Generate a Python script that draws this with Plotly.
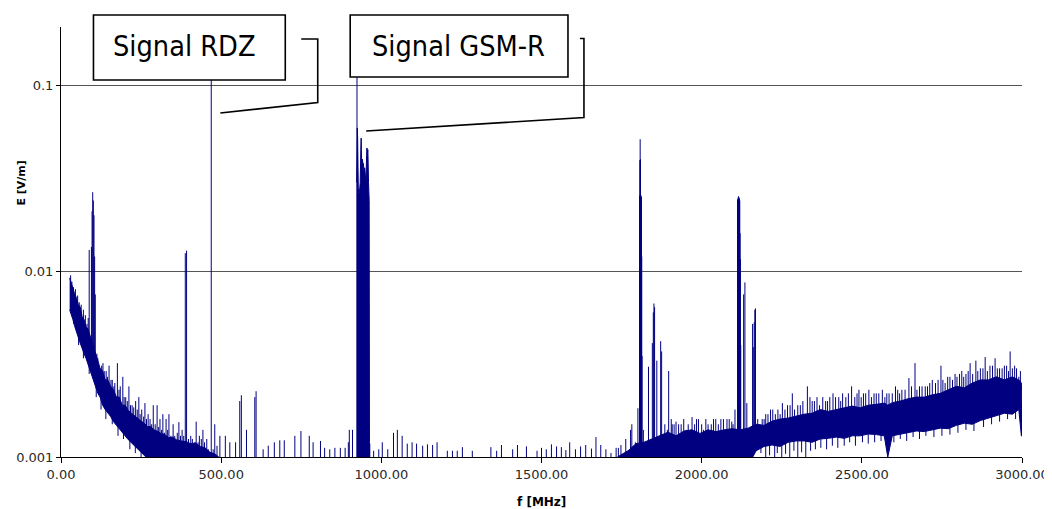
import numpy as np
import plotly.graph_objects as go

# ---------------- data ----------------
x_ticks = [0, 500, 1000, 1500, 2000, 2500, 3000]
x_ticklabels = ["0.00", "500.00", "1000.00", "1500.00", "2000.00", "2500.00", "3000.00"]
y_ticks = [0.001, 0.01, 0.1]
y_ticklabels = ["0.001", "0.01", "0.1"]

# low-frequency noise band (MHz, upper / lower edge in V/m)
band_a_f = [27, 32, 37, 42, 48, 54, 60, 66, 72, 78, 84, 90, 96, 102, 108, 115, 122, 130, 138, 146,
            155, 164, 173, 182, 191, 200, 210, 220, 230, 240, 250, 260, 270, 280, 290, 300, 312,
            324, 336, 348, 360, 375, 390, 405, 420, 435, 450, 465, 480, 495]
band_a_hi = [0.0092, 0.0086, 0.0083, 0.0076, 0.0072, 0.0066, 0.0064, 0.0057, 0.0055, 0.0050, 0.0049,
             0.0045, 0.0042, 0.0039, 0.0036, 0.0033, 0.0030, 0.0029, 0.0026, 0.0026, 0.0024, 0.0023,
             0.0021, 0.0021, 0.0019, 0.0019, 0.00178, 0.00172, 0.00166, 0.00160, 0.00156, 0.00152,
             0.00146, 0.00146, 0.00140, 0.00138, 0.00134, 0.00132, 0.00127, 0.00128, 0.00124,
             0.00122, 0.00121, 0.00118, 0.00119, 0.00114, 0.00112, 0.00106, 0.00104, 0.00099]
band_a_lo = [0.0062, 0.0058, 0.0055, 0.0051, 0.0047, 0.0044, 0.0041, 0.0038, 0.0036, 0.0034, 0.0032,
             0.0030, 0.0028, 0.0026, 0.0024, 0.0022, 0.0021, 0.0019, 0.0018, 0.00172, 0.00165,
             0.00155, 0.00148, 0.00142, 0.00135, 0.0013, 0.00124, 0.00118, 0.00114, 0.0011, 0.00106,
             0.00102, 0.00098, 0.00096, 0.0009, 0.0009, 0.0009, 0.0009, 0.0009, 0.0009, 0.0009,
             0.0009, 0.0009, 0.0009, 0.0009, 0.0009, 0.0009, 0.0009, 0.0009, 0.0009]

# high-frequency noise band
band_b_f = [1720, 1745, 1770, 1795, 1820, 1845, 1870, 1895, 1920, 1945, 1970, 1995, 2020, 2045,
            2070, 2095, 2120, 2145, 2170, 2195, 2220, 2245, 2270, 2295, 2320, 2345, 2370, 2395,
            2420, 2445, 2470, 2495, 2520, 2545, 2570, 2581, 2595, 2620, 2645, 2670, 2695, 2720,
            2745, 2770, 2795, 2820, 2845, 2870, 2895, 2920, 2945, 2970, 2990, 2998, 3000]
band_b_hi = [0.00095, 0.00102, 0.00108, 0.00118, 0.0012, 0.00125, 0.0013, 0.00136, 0.0013, 0.00138,
             0.0014, 0.00134, 0.0014, 0.00137, 0.0014, 0.00142, 0.0014, 0.00143, 0.0015, 0.00148,
             0.00156, 0.0016, 0.00162, 0.00166, 0.0017, 0.00172, 0.0018, 0.00176, 0.0018, 0.00185,
             0.00188, 0.00184, 0.0019, 0.00192, 0.00195, 0.0019, 0.00196, 0.002, 0.00206, 0.0021,
             0.0021, 0.00216, 0.0022, 0.0023, 0.0024, 0.00236, 0.0025, 0.0026, 0.0026, 0.0027,
             0.0026, 0.0027, 0.0026, 0.0025, 0.0019]
band_b_lo = [0.0009, 0.0009, 0.0009, 0.0009, 0.0009, 0.0009, 0.0009, 0.0009, 0.0009, 0.0009,
             0.0009, 0.0009, 0.0009, 0.0009, 0.0009, 0.0009, 0.0009, 0.0009, 0.00108, 0.00114,
             0.00116, 0.00114, 0.0012, 0.00122, 0.00122, 0.0012, 0.00125, 0.00126, 0.00128,
             0.00126, 0.0013, 0.0013, 0.00133, 0.00132, 0.0013, 0.001, 0.0013, 0.00133, 0.00135,
             0.00138, 0.00137, 0.0014, 0.00143, 0.00142, 0.00148, 0.00152, 0.0015, 0.00157,
             0.00162, 0.00167, 0.00172, 0.0017, 0.0018, 0.0013, 0.0013]

# GSM-R block (dense carriers)
gsm_f = [923, 925, 926, 928, 930, 932, 934, 936, 937, 939, 941, 943, 944, 946, 948, 950, 952,
         954, 955, 957, 958, 960, 962, 963]
gsm_hi = [0.030, 0.059, 0.052, 0.028, 0.026, 0.027, 0.030, 0.045, 0.052, 0.035, 0.040, 0.037,
          0.038, 0.034, 0.036, 0.033, 0.030, 0.042, 0.046, 0.044, 0.045, 0.030, 0.024, 0.0012]

# individual spectral lines (MHz, V/m)
spike_f = [85, 88, 95, 97, 99, 101, 103, 105, 107, 115, 122, 131, 141, 150, 160, 168, 176, 185,
           193, 202, 212, 222, 233, 243, 252, 262, 272, 288, 300, 309, 318, 328, 337, 350, 368,
           378, 388, 392, 405, 422, 432, 443, 455, 469, 480, 496, 513, 527, 545, 558, 563, 579,
           605, 609, 631, 647, 666, 683, 697, 730, 749, 775, 787, 810, 823, 839, 855, 872, 887,
           897, 900, 910, 924,
           964, 976, 992, 1003, 1020, 1038, 1050, 1065, 1081, 1096, 1110, 1129, 1144, 1160,
           1174, 1206, 1222, 1237, 1253, 1284, 1342, 1360, 1375, 1410, 1425, 1453, 1486, 1500,
           1515, 1531, 1547, 1562, 1576, 1588, 1606, 1622, 1638, 1656, 1670, 1685, 1701, 1717,
           1733, 1740, 1748, 1763, 1778, 1782, 1793, 1801,
           1806, 1807, 1808, 1809, 1810, 1811, 1812, 1813, 1814, 1818, 1834, 1846, 1849, 1851,
           1853, 1860, 1872, 1875, 1897, 1908, 1920, 1936, 1952, 1970, 1990, 2013, 2030, 2044,
           2060, 2079, 2094, 2104,
           2112, 2113, 2114, 2115, 2116, 2117, 2118, 2119, 2120, 2121, 2122, 2131, 2135, 2141,
           2159, 2161, 2164, 2166, 2168,
           2189, 2200, 2215, 2230, 2252, 2268, 2283, 2300, 2330, 2345, 2360, 2387, 2400, 2418,
           2440, 2468, 2491, 2505, 2522, 2545, 2564, 2585, 2605, 2625, 2647, 2666, 2680, 2698,
           2720, 2747, 2760, 2775, 2791, 2812, 2825, 2838, 2856, 2870, 2885, 2900, 2916, 2930,
           2945, 2963, 2977, 2990]
spike_v = [0.0056, 0.0130, 0.0135, 0.0210, 0.0266, 0.0240, 0.0200, 0.0120, 0.0075, 0.0034, 0.0030,
           0.0032, 0.0029, 0.0031, 0.0026, 0.0025, 0.0032, 0.0024, 0.0027, 0.0021, 0.0024, 0.0019,
           0.0020, 0.0021, 0.0018, 0.00195, 0.0017, 0.0019, 0.0019, 0.0016, 0.0017, 0.0016, 0.0017,
           0.0015, 0.00154, 0.0014, 0.0125, 0.0129, 0.0013, 0.00155, 0.0013, 0.0014, 0.00125, 0.15,
           0.0015, 0.0013, 0.0013, 0.0012, 0.0012, 0.0020, 0.00215, 0.0014, 0.0021, 0.00226,
           0.0011, 0.00115, 0.0012, 0.00123, 0.00123, 0.0013, 0.00138, 0.0013, 0.0012, 0.00122,
           0.00112, 0.0011, 0.00112, 0.00112, 0.00112, 0.0012, 0.0014, 0.0014, 0.15,
           0.00118, 0.00108, 0.0011, 0.0012, 0.0011, 0.00135, 0.0014, 0.0013, 0.00118, 0.0012,
           0.00118, 0.00115, 0.00117, 0.00116, 0.0012, 0.00108, 0.00108, 0.00108, 0.00113,
           0.00108, 0.00113, 0.00108, 0.00116, 0.0011, 0.00116, 0.00114, 0.00108, 0.00112,
           0.0011, 0.00117, 0.00114, 0.00113, 0.00109, 0.0012, 0.0011, 0.00114, 0.00116, 0.00111,
           0.00128, 0.00116, 0.0011, 0.00105, 0.00112, 0.00112, 0.00116, 0.00125, 0.0014,
           0.0015, 0.0012, 0.00183,
           0.0255, 0.0396, 0.0513, 0.0400, 0.0255, 0.0255, 0.0250, 0.0120, 0.0035, 0.0014,
           0.00306, 0.0041, 0.0060, 0.0067, 0.0064, 0.0033, 0.0042, 0.0037, 0.0029, 0.0015,
           0.00155, 0.0015, 0.0014, 0.00164, 0.0016, 0.0016, 0.0015, 0.0016, 0.0016, 0.0016,
           0.00155, 0.0018,
           0.0243, 0.0245, 0.0250, 0.0253, 0.0250, 0.0248, 0.0245, 0.0240, 0.0160, 0.0116,
           0.0040, 0.0075, 0.0087, 0.00195, 0.0052, 0.0039, 0.0053, 0.0062, 0.0063,
           0.0016, 0.0017, 0.0018, 0.0017, 0.00195, 0.0019, 0.0022, 0.0019, 0.0024, 0.0020,
           0.0021, 0.0020, 0.0021, 0.0021, 0.0022, 0.0024, 0.0023, 0.0022, 0.0023, 0.0022,
           0.0023, 0.0022, 0.0024, 0.0023, 0.00266, 0.0032, 0.0024, 0.0024, 0.0026, 0.0031,
           0.0025, 0.0027, 0.0028, 0.0029, 0.0028, 0.0032, 0.0033, 0.0030, 0.00345, 0.0031,
           0.0034, 0.0030, 0.0031, 0.0037, 0.0031, 0.0027]

# smaller lines sticking out of the top of the noise bands
minor_f = [30, 34, 39, 45, 52, 57, 63, 70, 76, 81, 112, 127, 135, 145, 156, 165, 181, 197, 207,
           217, 227, 238, 247, 258, 267, 278, 283, 294, 305, 314, 323, 333, 343, 355, 363, 373,
           383, 398, 410, 418, 428, 438, 448, 460, 475, 487,
           1885, 1893, 1905, 1914, 1928, 1944, 1958, 1965, 1978, 1984, 2000, 2006, 2020, 2037,
           2052, 2068, 2086, 2098,
           2175, 2182, 2195, 2207, 2222, 2238, 2245, 2260, 2276, 2290, 2308, 2316, 2338, 2352,
           2368, 2378, 2393, 2410, 2428, 2434, 2450, 2458, 2478, 2485, 2498, 2512, 2530, 2538,
           2553, 2572, 2578, 2595, 2612, 2618, 2635, 2655, 2672, 2688, 2705, 2712, 2730, 2738,
           2753, 2768, 2783, 2797, 2805, 2818, 2832, 2846, 2862, 2878, 2892, 2908, 2923, 2938,
           2952, 2958, 2970, 2983, 2995]
minor_v = [0.0095, 0.0088, 0.0082, 0.0080, 0.0074, 0.0068, 0.0066, 0.0062, 0.0058, 0.0052, 0.0036,
           0.0031, 0.0029, 0.0027, 0.0026, 0.0024, 0.0023, 0.0021, 0.0020, 0.0019, 0.00185, 0.0018,
           0.0017, 0.00165, 0.0016, 0.0016, 0.0015, 0.0015, 0.00145, 0.0014, 0.00135, 0.0014,
           0.0013, 0.0013, 0.00135, 0.0013, 0.0013, 0.00125, 0.00125, 0.0012, 0.0012, 0.00125,
           0.0012, 0.0011, 0.0011, 0.00115,
           0.0015, 0.0014, 0.0016, 0.0015, 0.0015, 0.0016, 0.0015, 0.0014, 0.0015, 0.0016, 0.0015,
           0.0014, 0.0015, 0.0016, 0.0015, 0.0016, 0.0016, 0.0015,
           0.0016, 0.0015, 0.0016, 0.0017, 0.0018, 0.0018, 0.0017, 0.0018, 0.0019, 0.0018, 0.0019,
           0.0020, 0.0021, 0.0020, 0.0019, 0.0021, 0.0020, 0.0022, 0.0021, 0.0020, 0.0021, 0.0022,
           0.0021, 0.0022, 0.0021, 0.0022, 0.0021, 0.0022, 0.0022, 0.0021, 0.0022, 0.0022, 0.0023,
           0.0022, 0.0023, 0.0024, 0.0023, 0.0024, 0.0024, 0.0025, 0.0025, 0.0026, 0.0026, 0.0027,
           0.0026, 0.0027, 0.0028, 0.0027, 0.0029, 0.0028, 0.0029, 0.0030, 0.0029, 0.0031, 0.0030,
           0.0030, 0.0031, 0.0029, 0.0030, 0.0030, 0.0029]

# lines dropping below the bottom of the noise bands
dip_f = [40, 55, 70, 88, 110, 125, 140, 160, 178, 195, 215, 232, 250,
         2185, 2200, 2212, 2228, 2236, 2250, 2262, 2275, 2288, 2300, 2312, 2325, 2340, 2355,
         2372, 2390, 2408, 2425, 2445, 2462, 2480, 2502, 2520, 2540, 2560, 2600, 2620, 2640,
         2660, 2680, 2700, 2725, 2750, 2775, 2800, 2825, 2850, 2880, 2905, 2930, 2955, 2980]
dip_v = [0.0052, 0.0040, 0.0034, 0.0028, 0.0021, 0.0018, 0.0016, 0.0015, 0.0013, 0.00125, 0.0011,
         0.00105, 0.001,
         0.00105, 0.001, 0.00102, 0.001, 0.00105, 0.001, 0.00104, 0.001, 0.00108, 0.001, 0.00106,
         0.001, 0.00108, 0.0011, 0.00112, 0.0011, 0.00115, 0.00112, 0.00115, 0.0012, 0.00115,
         0.0012, 0.00118, 0.0012, 0.00122, 0.0012, 0.00125, 0.00122, 0.00128, 0.00125, 0.0013,
         0.00128, 0.0013, 0.00132, 0.00135, 0.0014, 0.00138, 0.00145, 0.0015, 0.00155, 0.0016,
         0.0016]

annotation_texts = ["Signal RDZ", "Signal GSM-R"]

# ---------------- figure ----------------
NAVY = "#000080"
FLOOR = 0.0008
OFF = 8                      # page body margin
W, H = 1052 - OFF, 509 - OFF
# plot box in window pixels
L, R, T, B = 60.5, 1022.5, 27, 457


def px(x):
    return (x - L) / (R - L)


def py(y):
    return (B - y) / (B - T)


fig = go.Figure()


def band(f, hi, lo):
    fig.add_trace(go.Scatter(
        x=list(f) + list(f)[::-1], y=list(hi) + list(lo)[::-1],
        mode="lines", fill="toself", fillcolor=NAVY,
        line=dict(color=NAVY, width=1), hoverinfo="skip", showlegend=False))


band(band_a_f, band_a_hi, band_a_lo)
band(band_b_f, band_b_hi, band_b_lo)
band(gsm_f, gsm_hi, [FLOOR] * len(gsm_f))


def base_at(f, edge):
    # lines start inside the noise band they belong to (or below the axis)
    for bf, bh, bl in ((band_a_f, band_a_hi, band_a_lo), (band_b_f, band_b_hi, band_b_lo)):
        if bf[0] <= f <= bf[-1]:
            if edge == "top":
                return 0.93 * 10 ** np.interp(f, bf, np.log10(bh))
            return 1.05 * 10 ** np.interp(f, bf, np.log10(bl))
    return FLOOR


def lines(fs, vs, edge, width=1):
    sx, sy = [], []
    for f, v in zip(fs, vs):
        sx += [f, f, None]
        b = base_at(f, edge)
        sy += [min(b, v) if edge == "top" else max(b, v), v, None]
    fig.add_trace(go.Scatter(x=sx, y=sy, mode="lines", line=dict(color=NAVY, width=width),
                             hoverinfo="skip", showlegend=False))


lines(dip_f, dip_v, "bottom")
lines(minor_f, minor_v, "top")
lines(spike_f, spike_v, "top")

tick_font = dict(family="DejaVu Sans", size=13, color="#2a2a2a")

fig.update_xaxes(range=[0, 3000], tickvals=x_ticks, ticktext=x_ticklabels, automargin=False,
                 showgrid=False, zeroline=False, showline=True, linecolor="black",
                 linewidth=1, ticks="outside", ticklen=5, tickcolor="black",
                 tickfont=tick_font)
fig.update_yaxes(type="log", range=[-3, -0.686], tickvals=y_ticks, ticktext=y_ticklabels,
                 automargin=False,
                 showgrid=True, gridcolor="#555555", gridwidth=1, zeroline=False,
                 showline=True, linecolor="black", linewidth=1, ticks="outside",
                 ticklen=4, tickcolor="black", tickfont=tick_font)

box_font = dict(family="DejaVu Sans Condensed, Liberation Sans Narrow, DejaVu Sans",
                size=28.6, color="black")
shapes = [
    dict(type="rect", xref="paper", yref="paper", x0=px(93), x1=px(285), y0=py(80), y1=py(15),
         line=dict(color="black", width=1.6), fillcolor="white", layer="above"),
    dict(type="rect", xref="paper", yref="paper", x0=px(350), x1=px(568), y0=py(77), y1=py(15),
         line=dict(color="black", width=1.6), fillcolor="white", layer="above"),
    dict(type="path", xref="paper", yref="paper", layer="above",
         path=f"M {px(301)} {py(39)} L {px(317.5)} {py(39)} L {px(317.5)} {py(102.5)} L {px(220)} {py(113)}",
         line=dict(color="black", width=1.6)),
    dict(type="path", xref="paper", yref="paper", layer="above",
         path=f"M {px(580)} {py(38.5)} L {px(584)} {py(38.5)} L {px(584)} {py(117.5)} L {px(366)} {py(131)}",
         line=dict(color="black", width=1.6)),
]

annotations = [
    dict(text=annotation_texts[0], xref="paper", yref="paper", x=px(184.5), y=py(46.5),
         showarrow=False, font=box_font, xanchor="center", yanchor="middle"),
    dict(text=annotation_texts[1], xref="paper", yref="paper", x=px(458), y=py(46.5),
         showarrow=False, font=box_font, xanchor="center", yanchor="middle"),
    dict(text="<b>E [V/m]</b>", xref="paper", yref="paper", x=px(20), y=py(183),
         textangle=-90, showarrow=False, xanchor="center", yanchor="middle",
         font=dict(family="DejaVu Sans", size=11, color="black")),
    dict(text="<b>f [MHz]</b>", xref="paper", yref="paper", x=px(541), y=py(502),
         showarrow=False, xanchor="center", yanchor="middle",
         font=dict(family="DejaVu Sans", size=12, color="black")),
]

fig.update_layout(width=W, height=H,
                  margin=dict(l=L - OFF, r=1052 - R, t=T - OFF, b=509 - B),
                  paper_bgcolor="white", plot_bgcolor="white",
                  shapes=shapes, annotations=annotations, showlegend=False)

fig.write_html("out.html")
